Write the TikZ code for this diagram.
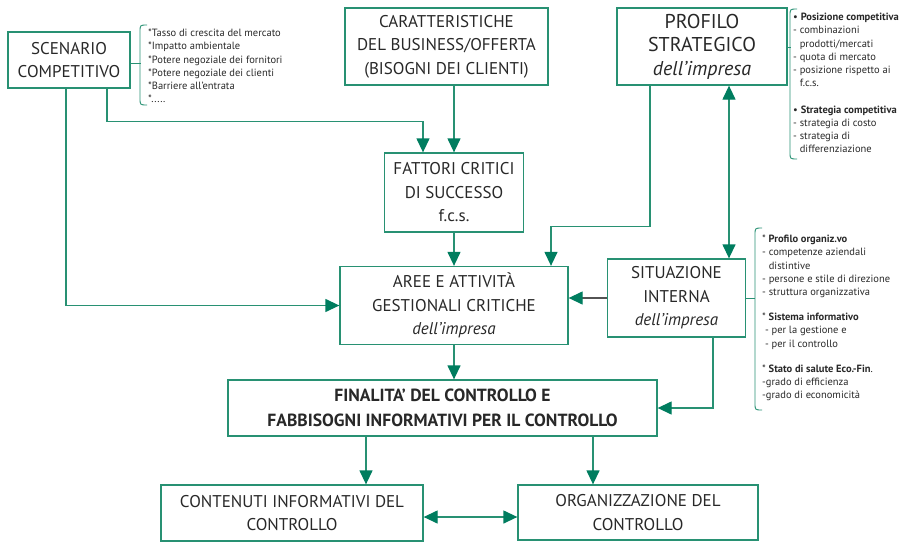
\documentclass[tikz,border=0pt]{standalone}
\usepackage{fontspec}
\setmainfont{PT Sans}
\usetikzlibrary{arrows.meta}
\definecolor{frame}{RGB}{40,145,115}
\definecolor{tip}{RGB}{0,125,95}
\definecolor{ink}{RGB}{40,40,40}
\tikzset{
  box/.style={draw=frame, line width=1.3pt, align=center, text=ink, inner sep=2pt,
              font=\fontsize{17}{23.5}\selectfont},
  link/.style={draw=frame, line width=1.3pt, -{Triangle[length=14pt,width=13pt,color=tip]}},
  dlink/.style={draw=frame, line width=1.3pt, {Triangle[length=14pt,width=13pt,color=tip]}-{Triangle[length=14pt,width=13pt,color=tip]}},
  grlink/.style={draw=ink!80, line width=1.3pt, -{Triangle[length=14pt,width=13pt,color=tip]}},
  brace/.style={draw=frame, line width=0.9pt},
  notes/.style={anchor=north west, align=left, text=ink, inner sep=0pt,
                font=\fontsize{10.5}{13.2}\selectfont},
}
\begin{document}
\begin{tikzpicture}[x=1pt,y=-1pt]
\useasboundingbox (0,0) rectangle (905,541);

% boxes
\node[box, minimum width=122, minimum height=56] (scen) at (69,60) {SCENARIO\\COMPETITIVO};
\node[box, minimum width=203, minimum height=77] (car) at (446.5,46.5) {CARATTERISTICHE\\DEL BUSINESS/OFFERTA\\(BISOGNI DEI CLIENTI)};
\node[box, minimum width=170, minimum height=77, font=\fontsize{20}{23.5}\selectfont] (prof) at (702,46.5) {PROFILO\\STRATEGICO\\\textit{dell’impresa}};
\node[box, minimum width=139, minimum height=79] (fcs) at (454,192.5) {FATTORI CRITICI\\DI SUCCESSO\\f.c.s.};
\node[box, minimum width=228, minimum height=78] (aree) at (454,305.5) {AREE E ATTIVITÀ\\GESTIONALI CRITICHE\\\textit{dell’impresa}};
\node[box, minimum width=138, minimum height=78] (sit) at (676.5,298) {SITUAZIONE\\INTERNA\\\textit{dell’impresa}};
\node[box, minimum width=429, minimum height=56, font=\fontsize{17.6}{25}\selectfont\bfseries] (fin) at (442.5,408) {FINALITA’ DEL CONTROLLO E\\FABBISOGNI INFORMATIVI PER IL CONTROLLO};
\node[box, minimum width=262, minimum height=56] (cont) at (292,513) {CONTENUTI INFORMATIVI DEL\\CONTROLLO};
\node[box, minimum width=240, minimum height=55] (org) at (638,512.5) {ORGANIZZAZIONE DEL\\CONTROLLO};

% connectors
\draw[link] ([xshift=38pt]scen.south) -- ++(0,33) -| ([xshift=-31pt]fcs.north);
\draw[link] (fcs.north |- car.south) -- (fcs.north);
\draw[link] (fcs.south) -- (aree.north);
\draw[link] ([xshift=-3pt]scen.south) |- (aree.west);
\draw[link] ([xshift=-52pt]prof.south) -- ++(0,141) -| ([xshift=97pt]aree.north);
\draw[dlink] ([xshift=27pt]prof.south) -- ([xshift=27pt]prof.south |- sit.north);
\draw[grlink] (sit.west) -- (sit.west -| aree.east);
\draw[link] ([xshift=36.5pt]sit.south) |- (fin.east);
\draw[link] (aree.south) -- (aree.south |- fin.north);
\draw[link] ([xshift=-76.5pt]fin.south) -- ([xshift=-76.5pt]fin.south |- cont.north);
\draw[link] ([xshift=150.5pt]fin.south) -- ([xshift=150.5pt]fin.south |- org.north);
\draw[dlink] ([yshift=-4pt]cont.east) -- ([yshift=-4pt]cont.east -| org.west);

% side notes with their brackets
\draw[brace] ([yshift=-3pt]scen.east) -- ++(10,0);
\draw[brace] (147,25) .. controls (140,25) .. (140,32) -- (140,98) .. controls (140,105) .. (147,105);
\node[notes] (scennotes) at (148,29) {%
*Tasso di crescita del mercato\\
*Impatto ambientale\\
*Potere negoziale dei fornitori\\
*Potere negoziale dei clienti\\
*Barriere all’entrata\\
*.....};

\draw[brace] ([yshift=-0.5pt]prof.east) -- ++(3,0);
\draw[brace] (797,9) .. controls (790,9) .. (790,16) -- (790,152) .. controls (790,159) .. (797,159);
\node[notes] (profnotes) at (793,13) {%
• \textbf{Posizione competitiva}\\
- combinazioni\\
\phantom{- }prodotti/mercati\\
- quota di mercato\\
- posizione rispetto ai\\
\phantom{- }f.c.s.\\[13.2pt]
• \textbf{Strategia competitiva}\\
- strategia di costo\\
- strategia di\\
\phantom{- }differenziazione};

\draw[brace] (sit.east) -- ++(9,0);
\draw[brace] (762,228) .. controls (755,228) .. (755,235) -- (755,403) .. controls (755,410) .. (762,410);
\node[notes] (sitnotes) at (762,235) {%
* \textbf{Profilo organiz.vo}\\
- competenze aziendali\\
\phantom{- }distintive\\
- persone e stile di direzione\\
- struttura organizzativa\\[12pt]
* \textbf{Sistema informativo}\\
\ - per la gestione e\\
\ - per il controllo\\[12pt]
* \textbf{Stato di salute Eco.-Fin}.\\
-grado di efficienza\\
-grado di economicità};
\end{tikzpicture}
\end{document}
